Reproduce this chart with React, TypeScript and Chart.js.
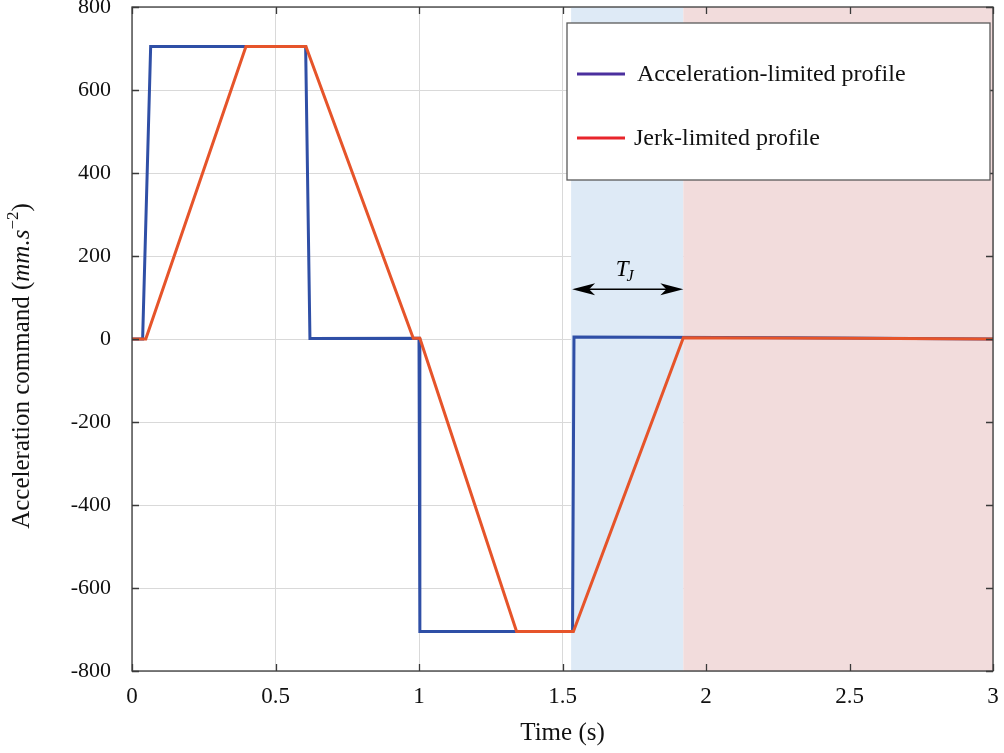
import React, { useEffect, useRef } from "react";
import { Chart, registerables } from "chart.js";
Chart.register(...registerables);

const accelTime = [0, 0.037, 0.065, 0.605, 0.62, 1.0, 1.003, 1.535, 1.54, 2.3, 3.0];
const accelValues = [0, 0, 705, 705, 1, 2, -705, -705, 5, 3, 0];
const jerkTime = [0, 0.048, 0.397, 0.606, 0.98, 1.003, 1.34, 1.538, 1.921, 2.5, 3.0];
const jerkValues = [0, 0, 705, 705, 2, 2, -705, -705, 3, 2, 0];
const seriesLabels = ["Acceleration-limited profile", "Jerk-limited profile"];
const xTickValues = [0, 0.5, 1, 1.5, 2, 2.5, 3];
const yTickValues = [-800, -600, -400, -200, 0, 200, 400, 600, 800];
const tjStart = 1.53;
const tjEnd = 1.921;
const arrowLevel = 120;

const FONT = "'Liberation Serif', 'DejaVu Serif', serif";
const BLUE = "#2f4fa6";
const ORANGE = "#e6542a";

const zeroPad = (s: any) => {
  s.paddingTop = 0;
  s.paddingBottom = 0;
  s.paddingLeft = 0;
  s.paddingRight = 0;
};

export default function App() {
  const ref = useRef<HTMLCanvasElement>(null);
  useEffect(() => {
    document.body.style.margin = "0";
    const custom = {
      id: "custom",
      beforeDatasetsDraw(chart: any) {
        const { ctx, chartArea: a, scales } = chart;
        const x = scales.x;
        const x1 = x.getPixelForValue(tjStart);
        const x2 = x.getPixelForValue(tjEnd);
        ctx.save();
        ctx.fillStyle = "rgb(222,234,246)";
        ctx.fillRect(x1, a.top, x2 - x1, a.bottom - a.top);
        ctx.fillStyle = "rgb(242,220,220)";
        ctx.fillRect(x2, a.top, a.right - x2, a.bottom - a.top);
        ctx.restore();
      },
      afterDatasetsDraw(chart: any) {
        const { ctx, chartArea: a, scales } = chart;
        const xs = scales.x, ys = scales.y;
        ctx.save();
        // frame
        ctx.strokeStyle = "#3a3a3a";
        ctx.lineWidth = 1.3;
        ctx.strokeRect(a.left, a.top, a.right - a.left, a.bottom - a.top);
        // inward ticks
        const tl = 7;
        ctx.beginPath();
        for (const v of yTickValues) {
          const py = Math.round(ys.getPixelForValue(v)) + 0.5;
          ctx.moveTo(a.left, py); ctx.lineTo(a.left + tl, py);
          ctx.moveTo(a.right, py); ctx.lineTo(a.right - tl, py);
        }
        for (const v of xTickValues) {
          const px = Math.round(xs.getPixelForValue(v)) + 0.5;
          ctx.moveTo(px, a.bottom); ctx.lineTo(px, a.bottom - tl);
          ctx.moveTo(px, a.top); ctx.lineTo(px, a.top + tl);
        }
        ctx.stroke();
        // arrow
        const ax1 = xs.getPixelForValue(tjStart) + 1;
        const ax2 = xs.getPixelForValue(tjEnd);
        const ay = ys.getPixelForValue(arrowLevel);
        ctx.strokeStyle = "#000";
        ctx.fillStyle = "#000";
        ctx.lineWidth = 1.4;
        ctx.beginPath();
        ctx.moveTo(ax1 + 10, ay); ctx.lineTo(ax2 - 10, ay);
        ctx.stroke();
        const head = (tip: number, dir: number) => {
          ctx.beginPath();
          ctx.moveTo(tip, ay);
          ctx.lineTo(tip + dir * 23, ay - 6);
          ctx.lineTo(tip + dir * 17, ay);
          ctx.lineTo(tip + dir * 23, ay + 6);
          ctx.closePath();
          ctx.fill();
        };
        head(ax1, 1);
        head(ax2, -1);
        // T_J label
        ctx.textBaseline = "alphabetic";
        ctx.textAlign = "left";
        ctx.font = `italic 23px ${FONT}`;
        const tx = (ax1 + ax2) / 2 - 12;
        ctx.fillText("T", tx, 276);
        const tw = ctx.measureText("T").width;
        ctx.font = `italic 16px ${FONT}`;
        ctx.fillText("J", tx + tw - 2, 281);
        // legend
        const lx = 567, ly = 23, lw = 423, lh = 157;
        ctx.fillStyle = "#ffffff";
        ctx.fillRect(lx, ly, lw, lh);
        ctx.strokeStyle = "#5a5a5a";
        ctx.lineWidth = 1.3;
        ctx.strokeRect(lx, ly, lw, lh);
        const entries = [
          { c: "#4b2f9e", y: 74, t: seriesLabels[0], tx: 637 },
          { c: "#e8252b", y: 138, t: seriesLabels[1], tx: 634 },
        ];
        ctx.font = `24px ${FONT}`;
        ctx.textBaseline = "middle";
        for (const e of entries) {
          ctx.strokeStyle = e.c;
          ctx.lineWidth = 3;
          ctx.beginPath();
          ctx.moveTo(577, e.y); ctx.lineTo(625, e.y);
          ctx.stroke();
          ctx.fillStyle = "#111";
          ctx.fillText(e.t, e.tx, e.y + 1);
        }
        // y title
        ctx.translate(29, 366);
        ctx.rotate(-Math.PI / 2);
        ctx.textBaseline = "alphabetic";
        const parts = [
          { t: "Acceleration command (", f: `25px ${FONT}`, dy: 0 },
          { t: "mm.s", f: `italic 25px ${FONT}`, dy: 0 },
          { t: "\u22122", f: `17px ${FONT}`, dy: -11 },
          { t: ")", f: `25px ${FONT}`, dy: 0 },
        ];
        let total = 0;
        for (const p of parts) { ctx.font = p.f; total += ctx.measureText(p.t).width; }
        let cx = -total / 2;
        ctx.fillStyle = "#111";
        for (const p of parts) {
          ctx.font = p.f;
          ctx.fillText(p.t, cx, p.dy);
          cx += ctx.measureText(p.t).width;
        }
        ctx.restore();
      },
    };
    const chart = new Chart(ref.current!, {
      type: "line",
      data: {
        datasets: [
          {
            label: seriesLabels[0],
            data: accelTime.map((t, i) => ({ x: t, y: accelValues[i] })),
            borderColor: BLUE,
            borderWidth: 3,
            pointRadius: 0,
            tension: 0,
            fill: false,
            order: 2,
          },
          {
            label: seriesLabels[1],
            data: jerkTime.map((t, i) => ({ x: t, y: jerkValues[i] })),
            borderColor: ORANGE,
            borderWidth: 3,
            pointRadius: 0,
            tension: 0,
            fill: false,
            order: 1,
          },
        ],
      },
      options: {
        animation: false,
        responsive: false,
        devicePixelRatio: 1,
        layout: { autoPadding: false, padding: { top: 7, right: 11, left: 0, bottom: 0 } },
        plugins: { legend: { display: false }, tooltip: { enabled: false } },
        scales: {
          x: {
            type: "linear",
            min: 0,
            max: 3,
            afterBuildTicks: (s: any) => { s.ticks = xTickValues.map((v) => ({ value: v })); },
            afterFit: (s: any) => { s.height = 82; zeroPad(s); },
            ticks: {
              callback: (v: any) => String(v),
              font: { family: FONT, size: 23 },
              color: "#111",
              padding: 12,
              maxRotation: 0,
              autoSkip: false,
            },
            grid: { color: "#d9d9d9", drawTicks: false, lineWidth: 1 },
            border: { display: false },
            title: {
              display: true,
              text: "Time (s)",
              font: { family: FONT, size: 25 },
              color: "#111",
              padding: { top: 0, bottom: 5 },
            },
          },
          y: {
            type: "linear",
            min: -800,
            max: 800,
            afterBuildTicks: (s: any) => { s.ticks = yTickValues.map((v) => ({ value: v })); },
            afterFit: (s: any) => { s.width = 132; zeroPad(s); },
            ticks: {
              callback: (v: any) => String(v),
              font: { family: FONT, size: 22 },
              color: "#111",
              padding: 21,
              autoSkip: false,
            },
            grid: { color: "#d9d9d9", drawTicks: false, lineWidth: 1 },
            border: { display: false },
          },
        },
      },
      plugins: [custom],
    } as any);
    return () => chart.destroy();
  }, []);
  return (
    <div style={{ width: 1004, height: 753 }}>
      <canvas ref={ref} width={1004} height={753} style={{ display: "block", width: 1004, height: 753 }} />
    </div>
  );
}
